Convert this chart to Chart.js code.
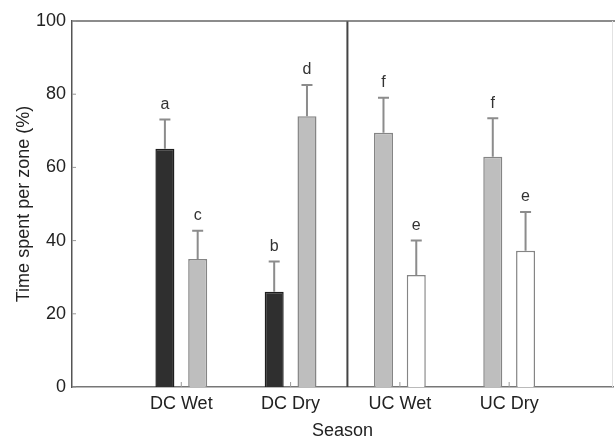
<!DOCTYPE html>
<html>
<head>
<meta charset="utf-8">
<script src="https://cdn.jsdelivr.net/npm/chart.js@4/dist/chart.umd.min.js"></script>
<style>
  html, body { margin: 0; padding: 0; background: #fff; }
  #wrap { width: 615px; height: 440px; }
</style>
</head>
<body>
<div id="wrap"><canvas id="myChart" width="615" height="440"></canvas></div>
<script>
// data
const categories = ["DC Wet", "DC Dry", "UC Wet", "UC Dry"];
const leftValues = [65.1, 26.0, 69.5, 62.9];
const leftErrors = [8.0, 8.3, 9.5, 10.5];
const leftLetters = ["a", "b", "f", "f"];
const rightValues = [35.0, 74.0, 30.6, 37.2];
const rightErrors = [7.7, 8.5, 9.4, 10.6];
const rightLetters = ["c", "d", "e", "e"];
const yTicks = [0, 20, 40, 60, 80, 100];
const dividerAt = 1.52; // between DC and UC groups

const DARK = "#2f2f2f";
const GRAY = "#bebebe";
const WHITE = "#ffffff";
const EDGE = "#858585";

const isDC = i => categories[i].startsWith("DC");

// error bars, letters, frame and small inward ticks
const extras = {
  id: "extras",
  afterDatasetsDraw(chart) {
    const { ctx, chartArea: a, scales: { x, y } } = chart;
    const errs = [leftErrors, rightErrors];
    const letters = [leftLetters, rightLetters];
    ctx.save();
    chart.data.datasets.forEach((ds, d) => {
      chart.getDatasetMeta(d).data.forEach((bar, i) => {
        const top = y.getPixelForValue(ds.data[i] + errs[d][i]);
        ctx.strokeStyle = "#8c8c8c";
        ctx.lineWidth = 2;
        ctx.beginPath();
        ctx.moveTo(bar.x, bar.y);
        ctx.lineTo(bar.x, top);
        ctx.moveTo(bar.x - 5.5, top);
        ctx.lineTo(bar.x + 5.5, top);
        ctx.stroke();
        ctx.fillStyle = "#333";
        ctx.font = "16px 'Liberation Sans', Arial, sans-serif";
        ctx.textAlign = "center";
        ctx.textBaseline = "bottom";
        ctx.fillText(letters[d][i], bar.x, top - 7);
      });
    });
    // divider
    const dx = x.getPixelForValue(dividerAt);
    ctx.strokeStyle = "#444";
    ctx.lineWidth = 2;
    ctx.beginPath();
    ctx.moveTo(dx, a.top);
    ctx.lineTo(dx, a.bottom);
    ctx.stroke();
    // top and right frame
    ctx.strokeStyle = "#666";
    ctx.lineWidth = 1.5;
    ctx.beginPath();
    ctx.moveTo(a.left, a.top);
    ctx.lineTo(chart.width, a.top);
    ctx.stroke();
    ctx.strokeStyle = "#e2e2e2";
    ctx.lineWidth = 1;
    ctx.beginPath();
    ctx.moveTo(a.right - 0.5, a.top);
    ctx.lineTo(a.right - 0.5, a.bottom);
    ctx.stroke();
    // inward ticks
    ctx.strokeStyle = "#999";
    ctx.lineWidth = 1;
    ctx.beginPath();
    yTicks.forEach(v => {
      const py = y.getPixelForValue(v);
      ctx.moveTo(a.left, py);
      ctx.lineTo(a.left + 4, py);
    });
    categories.forEach((c, i) => {
      const px = x.getPixelForValue(i);
      ctx.moveTo(px, a.bottom);
      ctx.lineTo(px, a.bottom - 5);
    });
    ctx.stroke();
    ctx.restore();
  }
};

new Chart(document.getElementById("myChart").getContext("2d"), {
  type: "bar",
  data: {
    labels: categories.map((c, i) => i),
    datasets: [
      {
        label: "left",
        data: leftValues,
        backgroundColor: c => isDC(c.dataIndex) ? DARK : GRAY,
        borderColor: c => isDC(c.dataIndex) ? "#1e1e1e" : EDGE,
        borderWidth: 1.5
      },
      {
        label: "right",
        data: rightValues,
        backgroundColor: c => isDC(c.dataIndex) ? GRAY : WHITE,
        borderColor: EDGE,
        borderWidth: 1.5
      }
    ]
  },
  options: {
    responsive: false,
    animation: false,
    events: [],
    categoryPercentage: 0.6,
    barPercentage: 0.58,
    layout: { padding: { top: 21, right: 2, left: 0, bottom: 0 } },
    plugins: {
      legend: { display: false },
      tooltip: { enabled: false }
    },
    scales: {
      x: {
        type: "linear",
        min: -1,
        max: 3.95,
        offset: false,
        afterFit: s => { s.height = 53; },
        grid: { display: false, drawTicks: false, offset: false },
        border: { color: "#777", width: 1.5 },
        ticks: {
          stepSize: 1,
          includeBounds: false,
          padding: 6,
          color: "#222",
          font: { family: "'Liberation Sans', Arial, sans-serif", size: 18 },
          callback: v => categories[v] || ""
        },
        title: {
          display: true,
          text: "Season",
          color: "#222",
          padding: { top: 0, bottom: -2 },
          font: { family: "'Liberation Sans', Arial, sans-serif", size: 18 }
        }
      },
      y: {
        min: 0,
        max: 100,
        afterFit: s => { s.width = 72; },
        afterBuildTicks: s => { s.ticks = yTicks.map(v => ({ value: v })); },
        grid: { display: false, drawTicks: false },
        border: { color: "#555", width: 1.5 },
        ticks: {
          padding: 6,
          color: "#222",
          font: { family: "'Liberation Sans', Arial, sans-serif", size: 18 }
        },
        title: {
          display: true,
          text: "Time spent per zone (%)",
          color: "#222",
          padding: { top: 13, bottom: 0 },
          font: { family: "'Liberation Sans', Arial, sans-serif", size: 18 }
        }
      }
    }
  },
  plugins: [extras]
});
</script>
</body>
</html>
